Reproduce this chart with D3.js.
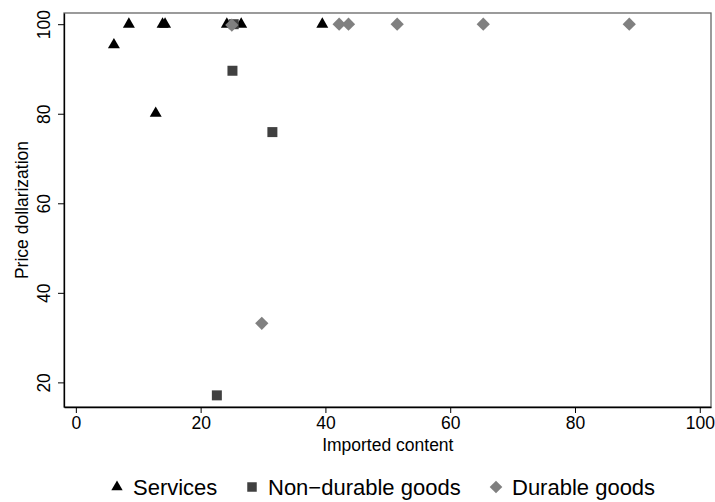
<!DOCTYPE html>
<html>
<head>
<meta charset="utf-8">
<script src="https://cdn.jsdelivr.net/npm/d3@7"></script>
<style>
  body { margin: 0; background: #fff; }
  text { font-family: "Liberation Sans", Arial, sans-serif; }
</style>
</head>
<body>
<script>
    // data: [imported content, price dollarization]
    const services = [[6.1, 95.4], [8.5, 100], [13.9, 100], [14.3, 100], [12.8, 80.1],
                      [24.2, 100], [26.5, 100], [39.5, 100]];
    const nonDurable = [[25.3, 100], [25.1, 89.6], [31.5, 75.9], [22.6, 17.1]];
    const durable = [[25.0, 99.8], [29.8, 33.2], [42.2, 100], [43.7, 100],
                     [51.5, 100], [65.3, 100], [88.7, 100]];
    const xTicks = [0, 20, 40, 60, 80, 100],
          yTicks = [20, 40, 60, 80, 100];
    const seriesNames = ['Services', 'Non\u2212durable goods', 'Durable goods'];

    const width = 715, height = 502;
    const plotL = 64, plotR = 711, plotT = 13, plotB = 407;

    const svg = d3.select('body').append('svg')
        .attr('width', width)
        .attr('height', height);

    const x = d3.scaleLinear().domain([-1.9, 101.8]).range([plotL, plotR]);
    const y = d3.scaleLinear().domain([14.5, 102.5]).range([plotB, plotT]);

    // plot frame
    svg.append('rect')
        .attr('x', plotL).attr('y', plotT)
        .attr('width', plotR - plotL).attr('height', plotB - plotT)
        .attr('fill', 'none').attr('stroke', '#666').attr('stroke-width', 1.3);

    const xAxis = svg.append('g')
        .attr('transform', `translate(0,${plotB})`)
        .call(d3.axisBottom(x).tickValues(xTicks).tickSize(6).tickSizeOuter(0));
    xAxis.select('.domain').attr('stroke', '#000').attr('stroke-width', 1.3);
    xAxis.selectAll('.tick line').attr('stroke', '#000');
    xAxis.selectAll('.tick text')
        .attr('y', 10).attr('dy', '0.71em')
        .style('font-size', '17.5px').attr('fill', '#000');

    const yAxis = svg.append('g')
        .attr('transform', `translate(${plotL},0)`)
        .call(d3.axisLeft(y).tickValues(yTicks).tickSize(6).tickSizeOuter(0));
    yAxis.select('.domain').attr('stroke', '#000').attr('stroke-width', 1.3);
    yAxis.selectAll('.tick line').attr('stroke', '#000');
    yAxis.selectAll('.tick text')
        .attr('x', null).attr('dy', null)
        .attr('text-anchor', 'middle')
        .attr('transform', 'translate(-14,0) rotate(-90)')
        .style('font-size', '17.5px').attr('fill', '#000');

    // axis titles
    svg.append('text')
        .attr('x', x(50)).attr('y', 451)
        .attr('text-anchor', 'middle')
        .style('font-size', '17.5px')
        .text('Imported content');

    svg.append('text')
        .attr('transform', `translate(28,${(plotT + plotB) / 2}) rotate(-90)`)
        .attr('text-anchor', 'middle')
        .style('font-size', '17.5px')
        .text('Price dollarization');

    // markers
    const tri = d3.symbol().type(d3.symbolTriangle).size(62),
          sq = d3.symbol().type(d3.symbolSquare).size(100),
          dia = d3.symbol().type(d3.symbolSquare).size(88);

    const series = [
        {data: services, path: tri(), color: '#000', rot: 0},
        {data: nonDurable, path: sq(), color: '#404040', rot: 0},
        {data: durable, path: dia(), color: '#808080', rot: 45}
    ];

    series.forEach(s => {
        svg.append('g').selectAll('path')
            .data(s.data)
            .enter().append('path')
            .attr('d', s.path)
            .attr('fill', s.color)
            .attr('transform', d => `translate(${x(d[0])},${y(d[1])}) rotate(${s.rot})`);
    });

    // legend
    const legendX = [117, 252, 496];
    const legend = svg.append('g');
    series.forEach((s, i) => {
        legend.append('path')
            .attr('d', s.path)
            .attr('fill', s.color)
            .attr('transform', `translate(${legendX[i]},487) rotate(${s.rot}) scale(0.95)`);
        legend.append('text')
            .attr('x', legendX[i] + 16).attr('y', 495)
            .style('font-size', '22px')
            .text(seriesNames[i]);
    });
</script>
</body>
</html>
